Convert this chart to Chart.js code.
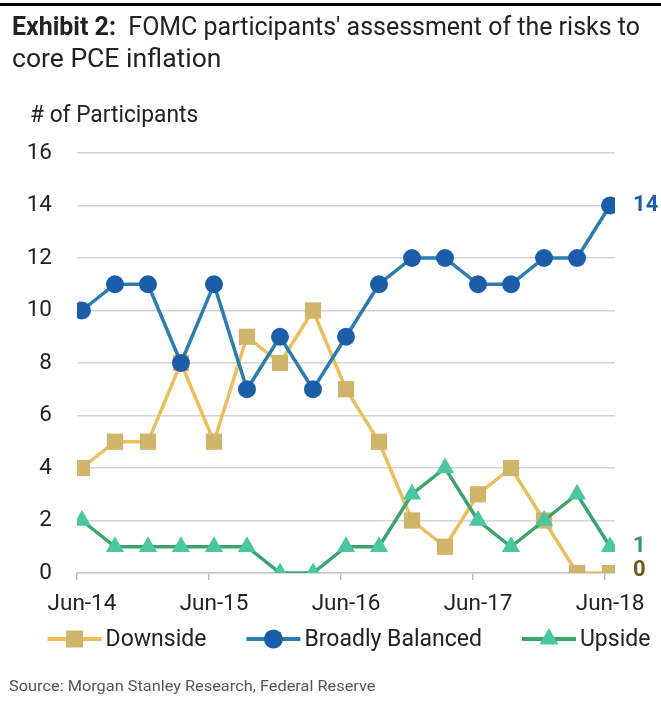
<!DOCTYPE html>
<html>
<head>
<meta charset="utf-8">
<script src="https://cdn.jsdelivr.net/npm/chart.js@4.4.1/dist/chart.umd.min.js"></script>
<style>
  html, body { margin: 0; padding: 0; background: #fff; }
  body { width: 661px; height: 702px; position: relative; overflow: hidden; font-family: Roboto, "Noto Sans", sans-serif; }
  #topRule { position: absolute; left: 0; top: 3px; width: 661px; height: 3px; background: #000; }
  .fit { position: absolute; white-space: nowrap; transform-origin: 0 0; color: #222; }
  #title1 { left: 12px; top: 12px; font-size: 25px; line-height: 30px; }
  #title2 { left: 12px; top: 44px; font-size: 25px; line-height: 30px; }
  #yTitle { left: 30px; top: 101px; font-size: 23px; line-height: 27px; }
  #source { left: 9px; top: 677px; font-size: 15px; line-height: 18px; color: #555; }
  #chart { position: absolute; left: 0; top: 0; }
</style>
</head>
<body>
<div id="topRule"></div>
<canvas id="chart" width="661" height="702"></canvas>
<div id="title1" class="fit"><b>Exhibit 2:</b>&nbsp; FOMC participants' assessment of the risks to</div>
<div id="title2" class="fit">core PCE inflation</div>
<div id="yTitle" class="fit"># of Participants</div>
<div id="source" class="fit">Source: Morgan Stanley Research, Federal Reserve</div>
<script>
// Quarterly FOMC projection rounds, Jun-14 through Jun-18
const quarters = ['Jun-14','Sep-14','Dec-14','Mar-15','Jun-15','Sep-15','Dec-15','Mar-16',
                  'Jun-16','Sep-16','Dec-16','Mar-17','Jun-17','Sep-17','Dec-17','Mar-18','Jun-18'];
const downside = [4, 5, 5, 8, 5, 9, 8, 10, 7, 5, 2, 1, 3, 4, 2, 0, 0];
const balanced = [10, 11, 11, 8, 11, 7, 9, 7, 9, 11, 12, 12, 11, 11, 12, 12, 14];
const upside   = [2, 1, 1, 1, 1, 1, 0, 0, 1, 1, 3, 4, 2, 1, 2, 3, 1];
const seriesNames = ['Downside', 'Broadly Balanced', 'Upside'];
const xTickLabels = ['Jun-14', 'Jun-15', 'Jun-16', 'Jun-17', 'Jun-18'];
const yTicks = [0, 2, 4, 6, 8, 10, 12, 14, 16];

// stretch the headline texts to their set widths
function fitWidth(id, w) {
  const el = document.getElementById(id);
  el.style.transform = 'scaleX(' + (w / el.offsetWidth) + ')';
}
fitWidth('title1', 628);
fitWidth('title2', 210);
fitWidth('yTitle', 168);
fitWidth('source', 366);

const FONT = 'Roboto';
const toPoints = arr => arr.map((v, i) => ({ x: i, y: v }));

// value label at the end of each series
const endLabels = {
  id: 'endLabels',
  afterDatasetsDraw(chart) {
    const ctx = chart.ctx;
    chart.data.datasets.forEach((ds, i) => {
      const meta = chart.getDatasetMeta(i);
      const pt = meta.data[meta.data.length - 1];
      const val = ds.data[ds.data.length - 1].y;
      ctx.save();
      ctx.font = 'bold 22px ' + FONT;
      ctx.fillStyle = ds.endLabelColor;
      ctx.textAlign = 'left';
      ctx.textBaseline = 'middle';
      ctx.fillText(String(val), pt.x + 23, pt.y + (ds.endLabelDy || 0));
      ctx.restore();
    });
  }
};

// legend row: line segment with marker, then series name
const lineLegend = {
  id: 'lineLegend',
  afterDraw(chart) {
    const ctx = chart.ctx;
    const o = chart.options.plugins.lineLegend;
    ctx.save();
    ctx.font = o.fontSize + 'px ' + FONT;
    const items = chart.data.datasets.map(ds => ({ ds, tw: ctx.measureText(ds.label).width }));
    const total = items.reduce((s, it) => s + o.segment + o.textGap + it.tw, 0) + o.itemGap * (items.length - 1);
    let x = o.centerX - total / 2;
    items.forEach(({ ds, tw }) => {
      ctx.strokeStyle = ds.borderColor;
      ctx.lineWidth = 4;
      ctx.beginPath();
      ctx.moveTo(x, o.y);
      ctx.lineTo(x + o.segment, o.y);
      ctx.stroke();
      ctx.fillStyle = ds.pointBackgroundColor;
      Chart.helpers.drawPoint(ctx, { pointStyle: ds.pointStyle, radius: ds.pointRadius + 0.5, rotation: 0, borderWidth: 0 },
        x + o.segment / 2, o.y);
      ctx.fillStyle = '#222';
      ctx.textAlign = 'left';
      ctx.textBaseline = 'alphabetic';
      ctx.fillText(ds.label, x + o.segment + o.textGap, o.baseline);
      x += o.segment + o.textGap + tw + o.itemGap;
    });
    ctx.restore();
  }
};

new Chart(document.getElementById('chart'), {
  type: 'line',
  data: {
    datasets: [
      {
        label: seriesNames[0], data: toPoints(downside), order: 2,
        borderColor: '#EABF5C', borderWidth: 3.5,
        pointStyle: 'rect', pointRadius: 11.5, pointBackgroundColor: '#CFB56B', pointBorderWidth: 0,
        endLabelColor: '#6E5A22', endLabelDy: -3
      },
      {
        label: seriesNames[1], data: toPoints(balanced), order: 1,
        borderColor: '#2B7DB0', borderWidth: 3.5,
        pointStyle: 'circle', pointRadius: 9, pointBackgroundColor: '#1B5DA8', pointBorderWidth: 0,
        endLabelColor: '#1B5DA8'
      },
      {
        label: seriesNames[2], data: toPoints(upside), order: 0,
        borderColor: '#3DA56B', borderWidth: 3.5,
        pointStyle: 'triangle', pointRadius: 10.5, pointBackgroundColor: '#4CC6A0', pointBorderWidth: 0,
        endLabelColor: '#3A936C'
      }
    ]
  },
  options: {
    responsive: false,
    animation: false,
    devicePixelRatio: 1,
    layout: { padding: { top: 153, right: 46, bottom: 0, left: 0 } },
    plugins: {
      legend: { display: false },
      tooltip: { enabled: false },
      lineLegend: { fontSize: 23, segment: 54, textGap: 4, itemGap: 40, centerX: 349, y: 639, baseline: 646 }
    },
    scales: {
      x: {
        type: 'linear',
        min: -0.15,
        max: quarters.length - 1 + 0.15,
        afterFit(scale) { scale.height = 129; },
        afterBuildTicks(scale) {
          scale.ticks = xTickLabels.map(l => ({ value: quarters.indexOf(l) - 0.15 }));
        },
        ticks: {
          font: { family: FONT, size: 22.5 },
          color: '#222',
          padding: 11,
          labelOffset: 5,
          maxRotation: 0,
          autoSkip: false,
          callback: v => quarters[Math.round(v + 0.15)]
        },
        grid: { drawOnChartArea: false, drawTicks: true, tickLength: 7, color: '#BDBDBD', lineWidth: 1.5 },
        border: { display: true, color: '#C8C8C8', width: 1.5 }
      },
      y: {
        min: 0,
        max: 16,
        afterFit(scale) { scale.width = 77; },
        afterBuildTicks(scale) { scale.ticks = yTicks.map(v => ({ value: v })); },
        ticks: { font: { family: FONT, size: 22.5 }, color: '#222', padding: 25 },
        grid: { color: '#D4D4D4', lineWidth: 1.5, drawTicks: false },
        border: { display: false }
      }
    }
  },
  plugins: [endLabels, lineLegend]
});
</script>
</body>
</html>
